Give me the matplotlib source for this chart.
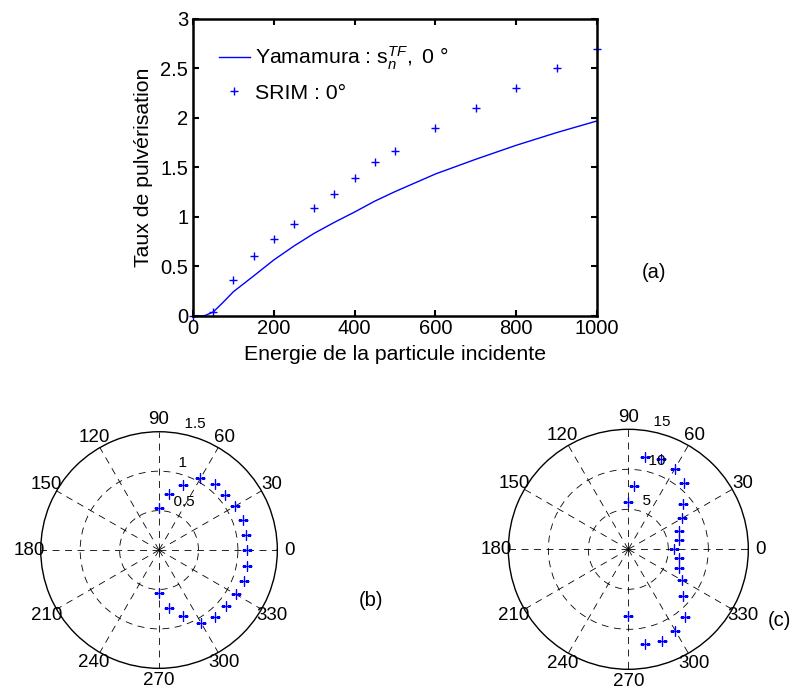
import numpy as np
import matplotlib
matplotlib.use("Agg")
import matplotlib.pyplot as plt

plt.rcParams['font.family'] = ['Liberation Sans', 'DejaVu Sans']
plt.rcParams['mathtext.fontset'] = 'custom'
plt.rcParams['mathtext.rm'] = 'Liberation Sans'
plt.rcParams['mathtext.it'] = 'Liberation Sans:italic'
plt.rcParams['lines.scale_dashes'] = False

# --- (a) sputtering yield vs energy ---
srim_energy = [0, 50, 100, 150, 200, 250, 300, 350, 400, 450, 500, 600, 700, 800, 900, 1000]
srim_yield = [0, 0.04, 0.36, 0.61, 0.78, 0.93, 1.09, 1.23, 1.39, 1.555, 1.667, 1.896, 2.098, 2.30, 2.50, 2.70]

yam_energy = [0, 20, 30, 50, 75, 100, 150, 200, 250, 300, 350, 400, 450, 500, 600, 700, 800, 900, 1000]
yam_yield = [0, 0, 0.005, 0.04, 0.14, 0.245, 0.404, 0.566, 0.707, 0.835, 0.946, 1.05, 1.16, 1.256,
             1.434, 1.583, 1.724, 1.852, 1.97]

# --- (b) angular distribution ---
b_angle = [90, 80, 70, 60, 50, 40, 30, 20, 10, 0, -10, -20, -30, -40, -50, -60, -70, -80, -90]
b_radius = [0.53, 0.72, 0.875, 1.05, 1.095, 1.095, 1.11, 1.13, 1.125, 1.11, 1.13, 1.14, 1.12,
            1.11, 1.11, 1.07, 0.89, 0.74, 0.545]
b_rticks = [0.5, 1, 1.5]
b_rlabels = ['0.5', '1', '1.5']

# --- (c) angular distribution ---
c_angle = [90, 85, 80, 70, 60, 50, 40, 30, 20, 10, 0, -10, -20, -30, -40, -50, -60, -70, -80, -90]
c_radius = [5.92, 8.0, 11.7, 11.95, 11.56, 10.8, 8.9, 7.74, 6.69, 6.39, 5.67, 6.45, 6.79, 7.79,
            8.99, 10.97, 11.77, 12.2, 12.0, 8.36]
c_rticks = [5, 10, 15]
c_rlabels = ['5', '10', '15']

theta_ticks = list(range(0, 360, 30))

fig = plt.figure(figsize=(7.94, 6.92), dpi=100)

ax = fig.add_axes([0.2431, 0.5434, 0.5088, 0.4292])
ax.plot(yam_energy, yam_yield, '-', color='#0000ff', linewidth=1.0,
        label=r'Yamamura : s$_{\it n}^{\it TF}$$\it{,\ 0}$ °')
ax.plot(srim_energy, srim_yield, '+', color='#0000ff', markersize=6, markeredgewidth=1.0,
        linestyle='none', label='SRIM : 0°', clip_on=False)
ax.set_xlim(0, 1000)
ax.set_ylim(0, 3)
ax.set_xticks([0, 200, 400, 600, 800, 1000])
ax.set_yticks([0, 0.5, 1, 1.5, 2, 2.5, 3])
ax.set_yticklabels(['0', '0.5', '1', '1.5', '2', '2.5', '3'])
ax.tick_params(direction='in', top=True, right=True, length=4, width=1.5, labelsize=14.5)
ax.tick_params(axis='y', pad=3.5)
ax.tick_params(axis='x', pad=2)
for s in ax.spines.values():
    s.set_linewidth(1.8)
ax.set_xlabel('Energie de la particule incidente', fontsize=15.3, labelpad=5)
ax.set_ylabel('Taux de pulvérisation', fontsize=15.3, labelpad=5)
ax.legend(loc='upper left', frameon=False, fontsize=15.3, handlelength=1.5, handletextpad=0.2,
          labelspacing=0.55, borderaxespad=0.6, borderpad=0.6)
fig.text(654 / 794, 1 - 272 / 692, '(a)', fontsize=14.5, ha='center', va='center')


def polar_panel(rect, angles, radii, rticks, rlabels):
    pax = fig.add_axes(rect, projection='polar')
    rmax = rticks[-1]
    pax.plot(np.deg2rad(angles), radii, '+', color='#0000ff', markersize=6.5, markeredgewidth=1.0,
             linestyle='none')
    pax.set_ylim(0, rmax)
    pax.set_yticks(rticks[:-1])
    pax.set_yticklabels([])
    pax.set_xticks(np.deg2rad(theta_ticks))
    pax.set_xticklabels([])
    pax.grid(True, color='k', linewidth=0.6, linestyle=(0, (5, 4)))
    pax.spines['polar'].set_linewidth(1.0)
    pax.spines['polar'].set_color('k')
    rinc = rticks[1] - rticks[0]
    for r, lab in zip(rticks, rlabels):
        pax.text(np.deg2rad(82), r + rinc / 20, '  ' + lab, fontsize=11,
                 ha='left', va='bottom')
    for t in theta_ticks:
        pax.text(np.deg2rad(t), 1.1 * rmax, str(t), fontsize=13.5, ha='center', va='center')
    return pax


polar_panel([0.0513, 0.0342, 0.298, 0.3419], b_angle, b_radius, b_rticks, b_rlabels)
polar_panel([0.6402, 0.0328, 0.3023, 0.3468], c_angle, c_radius, c_rticks, c_rlabels)

fig.text(371 / 794, 1 - 600 / 692, '(b)', fontsize=14.5, ha='center', va='center')
fig.text(779 / 794, 1 - 621 / 692, '(c)', fontsize=14.5, ha='center', va='center')

fig.savefig('out.png', dpi=100)
